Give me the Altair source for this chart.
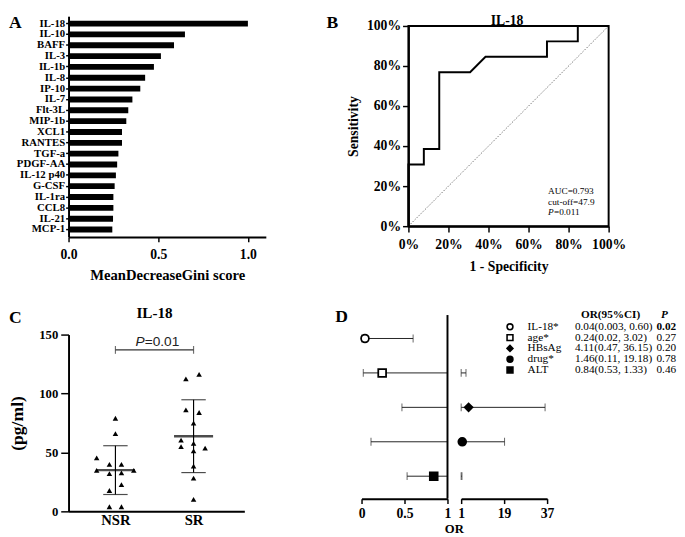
import altair as alt
import pandas as pd

SERIF = "Liberation Serif"
SANS = "Liberation Sans"

# ---------------- Panel A: random-forest importance ----------------
cytokines = ["IL-18", "IL-10", "BAFF", "IL-3", "IL-1b", "IL-8", "IP-10", "IL-7", "Flt-3L",
             "MIP-1b", "XCL1", "RANTES", "TGF-a", "PDGF-AA", "IL-12 p40", "G-CSF",
             "IL-1ra", "CCL8", "IL-21", "MCP-1"]
gini_score = [1.0, 0.649, 0.588, 0.515, 0.476, 0.427, 0.400, 0.356, 0.333, 0.322,
              0.298, 0.298, 0.278, 0.271, 0.264, 0.257, 0.250, 0.250, 0.248, 0.244]

# ---------------- Panel B: ROC curve (percent) ----------------
roc_fpr = [0, 0, 7.7, 7.7, 15.4, 15.4, 30.8, 38.5, 69.2, 69.2, 84.6, 84.6, 100]
roc_tpr = [0, 30.8, 30.8, 38.5, 38.5, 76.9, 76.9, 84.6, 84.6, 92.3, 92.3, 100, 100]
roc_auc_text = "AUC=0.793"
roc_cutoff_text = "cut-off=47.9"
roc_p_text = "=0.011"

# ---------------- Panel C: IL-18 levels ----------------
groups = ["NSR", "SR"]
nsr_values = [79.0, 66.0, 45.3, 39.8, 39.8, 34.8, 34.8, 32.0, 32.6, 22.6, 17.7, 3.9, 3.9]
nsr_jitter = [0, 0, -0.24, -0.077, 0.077, -0.24, 0.235, -0.077, 0.077, 0.077, -0.077, -0.077, 0.077]
sr_values = [112.4, 116.2, 86.2, 83.9, 74.8, 60.5, 57.7, 54.9, 53.6, 51.4, 38.4, 28.2, 10.2]
sr_jitter = [-0.098, 0.071, -0.098, 0.071, 0, -0.16, 0, -0.16, 0.148, 0, 0, 0, 0]
group_mean = [35.0, 63.8]
group_sd = [20.7, 30.9]
bracket_level = [137]
bracket_p_text = "=0.01"

# ---------------- Panel D: odds ratios ----------------
or_vars = ["IL-18*", "age*", "HBsAg", "drug*", "ALT"]
or_est = [0.04, 0.24, 4.11, 1.46, 0.84]
or_low = [0.003, 0.02, 0.47, 0.11, 0.53]
or_high = [0.60, 3.02, 36.15, 19.18, 1.33]
or_ci_text = ["0.04(0.003, 0.60)", "0.24(0.02, 3.02)", "4.11(0.47, 36.15)",
              "1.46(0.11, 19.18)", "0.84(0.53, 1.33)"]
or_p = [0.02, 0.27, 0.20, 0.78, 0.46]
or_shapes = ["circle", "square", "diamond", "circle", "square"]
or_fills = ["white", "white", "black", "black", "black"]


def label(txt, x, y, size, weight="bold", font=SERIF, align="left",
          baseline="top", style="normal"):
    return alt.Chart(pd.DataFrame({"t": [txt]})).mark_text(
        align=align, baseline=baseline, font=font, fontSize=size,
        fontWeight=weight, fontStyle=style, color="black"
    ).encode(text="t:N", x=alt.value(x), y=alt.value(y))


# ======================= Panel A =======================
dfA = pd.DataFrame({"cytokine": cytokines, "score": gini_score})
A_bars = alt.Chart(dfA).mark_bar(color="black").encode(
    x=alt.X("score:Q", scale=alt.Scale(domain=[0, 1.1], nice=False),
            axis=alt.Axis(values=[0, 0.5, 1.0], format=".1f", title="MeanDecreaseGini score",
                          tickSize=5, labelPadding=6, titlePadding=7,
                          labelFontSize=14, titleFontSize=15)),
    y=alt.Y("cytokine:N", sort=cytokines,
            scale=alt.Scale(paddingInner=0.46, paddingOuter=0.41),
            axis=alt.Axis(title=None, tickSize=3, labelPadding=1, labelFontSize=11)),
)
A = alt.layer(A_bars, label("A", -61, -2, 18)).properties(width=202, height=226)

# ======================= Panel B =======================
dfB = pd.DataFrame({"fpr": roc_fpr, "tpr": roc_tpr, "step": list(range(len(roc_fpr)))})
xB_scale = alt.Scale(domain=[0, 100], nice=False)
yB_scale = alt.Scale(domain=[0, 100], range=[215, 10], nice=False)
xB_axis = alt.Axis(values=[0, 20, 40, 60, 80, 100], labelExpr="datum.value + '%'",
                   title="1 - Specificity", tickSize=6, labelPadding=6, titlePadding=8,
                   labelFontSize=14, titleFontSize=14)
yB_axis = alt.Axis(values=[0, 20, 40, 60, 80, 100], labelExpr="datum.value + '%'",
                   title="Sensitivity", tickSize=6, labelPadding=2, titlePadding=6,
                   labelFontSize=14, titleFontSize=14)


def xb(f):
    return alt.X(f, scale=xB_scale, axis=xB_axis)


def yb(f):
    return alt.Y(f, scale=yB_scale, axis=yB_axis)


dfFrame = pd.DataFrame({"lo": [0], "hi": [100]})
B_frame = alt.Chart(dfFrame).mark_rect(fillOpacity=0, stroke="black", strokeWidth=2).encode(
    x=xb("lo:Q"), x2="hi:Q", y=yb("lo:Q"), y2="hi:Q")
B_diag = alt.Chart(pd.DataFrame({"ref": [0, 100]})).mark_line(
    color="#555555", strokeWidth=0.8, strokeDash=[1.5, 1.5]
).encode(x=xb("ref:Q"), y=yb("ref:Q"))
B_line = alt.Chart(dfB).mark_line(color="black", strokeWidth=2).encode(
    x=xb("fpr:Q"), y=yb("tpr:Q"), order="step:Q")
B = alt.layer(
    B_diag, B_frame, B_line,
    label(roc_auc_text, 143, 179, 9.5, weight="normal", baseline="middle"),
    label(roc_cutoff_text, 143, 190, 9.5, weight="normal", baseline="middle"),
    label("P", 143, 201, 9.5, weight="normal", baseline="middle", style="italic"),
    label(roc_p_text, 149, 201, 9.5, weight="normal", baseline="middle"),
    label("B", -84, -2, 18),
    label("IL-18", 101, 5, 14, align="center", baseline="middle"),
).properties(width=205, height=215)

# ======================= Panel C =======================
dfC = pd.DataFrame({
    "group": ["NSR"] * len(nsr_values) + ["SR"] * len(sr_values),
    "value": nsr_values + sr_values,
    "jitter": nsr_jitter + sr_jitter,
})
dfCs = pd.DataFrame({"group": groups, "mean": group_mean, "sd": group_sd})
grp_expr = "indexof(['NSR', 'SR'], datum.group) + 1"
xC_scale = alt.Scale(domain=[0.4, 2.65], nice=False, zero=False)
xC_axis = alt.Axis(values=[1, 2], labelExpr="['NSR', 'SR'][datum.value - 1]", ticks=False,
                   title=None, labelFontSize=15, labelPadding=1)
yC_scale = alt.Scale(domain=[0, 150], nice=False)
yC_axis = alt.Axis(values=[0, 50, 100, 150], title="(pg/ml)", tickSize=8, labelPadding=3,
                   titlePadding=13, labelFontSize=13, titleFontSize=18)


def xc(f):
    return alt.X(f, scale=xC_scale, axis=xC_axis)


def yc(f):
    return alt.Y(f, scale=yC_scale, axis=yC_axis)


C_pts = alt.Chart(dfC).transform_calculate(pos=grp_expr + " + datum.jitter").mark_point(
    shape="triangle-up", filled=True, color="black", size=32, opacity=1
).encode(x=xc("pos:Q"), y=yc("value:Q"))
C_stats = alt.Chart(dfCs).transform_calculate(
    pos=grp_expr, lo="datum.mean - datum.sd", hi="datum.mean + datum.sd")
C_sd = C_stats.mark_rule(color="black", strokeWidth=1.2).encode(
    x=xc("pos:Q"), y=yc("lo:Q"), y2="hi:Q")
C_cap_lo = C_stats.mark_tick(orient="horizontal", size=25, thickness=1.2, color="black").encode(
    x=xc("pos:Q"), y=yc("lo:Q"))
C_cap_hi = C_stats.mark_tick(orient="horizontal", size=25, thickness=1.2, color="black").encode(
    x=xc("pos:Q"), y=yc("hi:Q"))
C_mean = C_stats.mark_tick(orient="horizontal", size=40, thickness=2.5, color="black").encode(
    x=xc("pos:Q"), y=yc("mean:Q"))

dfBr = pd.DataFrame({"a": [1], "b": [2], "level": bracket_level})
C_br = alt.Chart(dfBr).mark_rule(color="#333333", strokeWidth=1.2).encode(
    x=xc("a:Q"), x2="b:Q", y=yc("level:Q"))
dfBrEnds = pd.DataFrame({"end": [1, 2], "level": bracket_level * 2})
C_br_ends = alt.Chart(dfBrEnds).mark_tick(orient="vertical", size=8, thickness=1.2,
                                          color="#333333").encode(
    x=xc("end:Q"), y=yc("level:Q"))
dfBrMid = pd.DataFrame({"mid": [1.5], "level": bracket_level})
C_P = alt.Chart(dfBrMid).mark_text(text="P", font=SANS, fontSize=14, fontStyle="italic",
                                   align="right", baseline="middle", dx=-10, dy=-8,
                                   color="#222222").encode(x=xc("mid:Q"), y=yc("level:Q"))
C_Pv = alt.Chart(dfBrMid).mark_text(text=bracket_p_text, font=SANS, fontSize=14,
                                    align="left", baseline="middle", dx=-10, dy=-8,
                                    color="#222222").encode(x=xc("mid:Q"), y=yc("level:Q"))

C = alt.layer(
    C_sd, C_cap_lo, C_cap_hi, C_mean, C_pts, C_br, C_br_ends, C_P, C_Pv,
    label("C", -61, -26, 18),
    label("IL-18", 88, -22, 15.5, align="center", baseline="middle"),
).properties(width=180, height=181)

# ======================= Panel D =======================
dfD = pd.DataFrame({"var": or_vars, "est": or_est, "low": or_low, "high": or_high,
                    "ci": or_ci_text, "p": or_p})
yD = alt.Y("var:N", sort=or_vars,
           scale=alt.Scale(domain=or_vars, type="point", range=[4, 145], padding=0), axis=None)
shapeD = alt.Shape("var:N", scale=alt.Scale(domain=or_vars, range=or_shapes), legend=None)
fillD = alt.Fill("var:N", scale=alt.Scale(domain=or_vars, range=or_fills), legend=None)

left_scale = alt.Scale(domain=[0, 1], range=[0, 88], nice=False, zero=False)
left_axis = alt.Axis(orient="bottom", values=[0, 0.5, 1], format="~g", title=None,
                     tickSize=5, labelPadding=3, labelFontSize=14)
right_scale = alt.Scale(domain=[1, 37], range=[102, 190], nice=False, zero=False)
right_axis = alt.Axis(orient="bottom", values=[1, 19, 37], format="d", title=None,
                      tickSize=5, labelPadding=3, labelFontSize=14)


def xl(f):
    return alt.X(f, scale=left_scale, axis=left_axis)


def xr(f):
    return alt.X(f, scale=right_scale, axis=right_axis)


baseD = alt.Chart(dfD)
tick_kw = dict(orient="vertical", size=8, thickness=1, color="#222222")
pt_kw = dict(filled=False, stroke="black", strokeWidth=1.8, fillOpacity=1, opacity=1, size=64)

D_left = alt.layer(
    baseD.transform_calculate(lh="min(datum.high, 1)").mark_rule(
        color="#222222", strokeWidth=1).encode(x=xl("low:Q"), x2="lh:Q", y=yD),
    baseD.mark_tick(**tick_kw).encode(x=xl("low:Q"), y=yD),
    baseD.transform_filter("datum.high < 1").mark_tick(**tick_kw).encode(x=xl("high:Q"), y=yD),
    alt.Chart(pd.DataFrame({"ref": [1]})).mark_rule(color="black", strokeWidth=2).encode(
        x=xl("ref:Q"), y=alt.value(-20), y2=alt.value(168)),
    baseD.transform_filter("datum.est < 1").mark_point(**pt_kw).encode(
        x=xl("est:Q"), y=yD, shape=shapeD, fill=fillD),
)

D_right = alt.layer(
    baseD.transform_filter("datum.high > 1").transform_calculate(one="1").mark_rule(
        color="#222222", strokeWidth=1).encode(x=xr("one:Q"), x2="high:Q", y=yD),
    baseD.transform_filter("datum.high > 1").transform_calculate(one="1").mark_tick(
        **tick_kw).encode(x=xr("one:Q"), y=yD),
    baseD.transform_filter("datum.high > 1").mark_tick(**tick_kw).encode(x=xr("high:Q"), y=yD),
    baseD.transform_filter("datum.est >= 1").mark_point(**pt_kw).encode(
        x=xr("est:Q"), y=yD, shape=shapeD, fill=fillD),
)

yL = alt.Y("var:N", sort=or_vars,
           scale=alt.Scale(domain=or_vars, type="point", range=[-8, 36.3], padding=0),
           axis=None)
txt_kw = dict(align="left", baseline="middle", font=SERIF, fontSize=11.5, color="black")
D_legend = alt.layer(
    baseD.mark_point(filled=False, stroke="black", strokeWidth=1.6, fillOpacity=1,
                     opacity=1, size=36).encode(x=alt.value(152), y=yL, shape=shapeD, fill=fillD),
    baseD.mark_text(**txt_kw).encode(x=alt.value(170), y=yL, text="var:N"),
    baseD.mark_text(**txt_kw).encode(x=alt.value(218.5), y=yL, text="ci:N"),
    baseD.transform_filter("datum.p >= 0.05").mark_text(**txt_kw).encode(
        x=alt.value(302), y=yL, text=alt.Text("p:Q", format=".2f")),
    baseD.transform_filter("datum.p < 0.05").mark_text(fontWeight="bold", **txt_kw).encode(
        x=alt.value(302), y=yL, text=alt.Text("p:Q", format=".2f")),
)

D = alt.layer(
    D_left, D_right, D_legend,
    label("OR(95%CI)", 255, -19.5, 11.5, align="center", baseline="middle"),
    label("P", 310, -19.5, 11.5, align="center", baseline="middle", style="italic"),
    label("OR", 95, 199.5, 13, align="center", baseline="middle"),
    label("D", -27, -27, 18),
).resolve_scale(x="independent", y="independent").properties(width=189, height=168)

chart = alt.vconcat(
    alt.hconcat(A, B, spacing=62),
    alt.hconcat(C, D, spacing=93),
    spacing=24,
).properties(
    padding={"left": 0, "top": 0, "right": 0, "bottom": 0}
).configure_view(stroke=None).configure_axis(
    domainColor="black", domainWidth=2, tickColor="black", tickWidth=1.5,
    labelColor="black", titleColor="black", labelFont=SERIF, titleFont=SERIF,
    labelFontWeight="bold", titleFontWeight="bold", grid=False,
    labelFlush=False, labelOverlap=False,
)

chart.save("out.html", embed_options={"renderer": "svg", "actions": False})
